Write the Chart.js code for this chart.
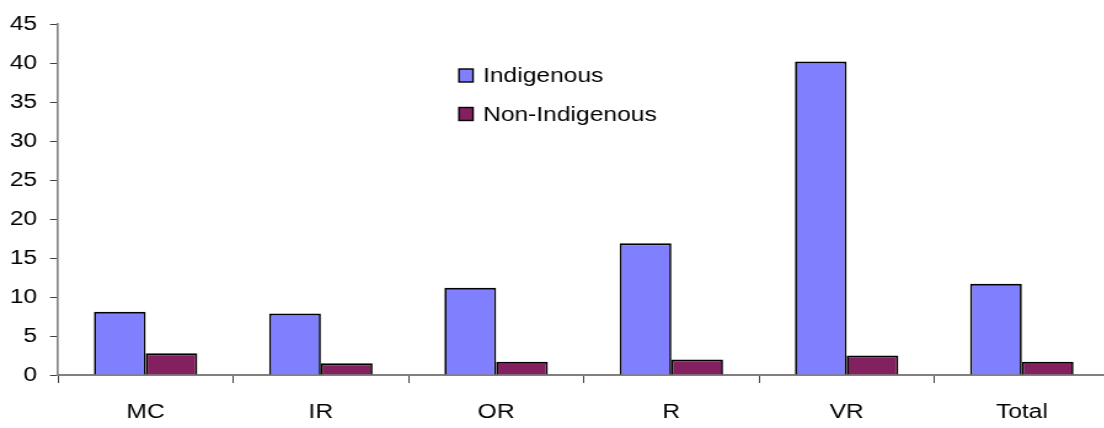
<!DOCTYPE html>
<html>
<head>
<meta charset="utf-8">
<script src="https://cdn.jsdelivr.net/npm/chart.js@4"></script>
<style>
  html, body { margin: 0; padding: 0; background: #ffffff; overflow: hidden; }
  /* the chart is laid out narrower and widened horizontally for its wide lettering */
  #wrap { position: relative; width: 902px; height: 428px; transform: scaleX(1.23); transform-origin: 0 0; }
</style>
</head>
<body>
<div id="wrap"><canvas id="c"></canvas></div>
<script>
// Rates by category
const categories = ['MC', 'IR', 'OR', 'R', 'VR', 'Total'];
const indigenous = [8.1, 7.9, 11.2, 16.9, 40.2, 11.7];
const nonIndigenous = [2.8, 1.5, 1.7, 2.0, 2.5, 1.7];
const yTicks = [0, 5, 10, 15, 20, 25, 30, 35, 40, 45];

const FONT = '"Liberation Sans", Arial, sans-serif';
const SX = 1.23;

// Legend drawn inside the plot, two stacked rows
const innerLegend = {
  id: 'innerLegend',
  afterDraw(chart) {
    const ctx = chart.ctx;
    ctx.save();
    ctx.font = '20px ' + FONT;
    ctx.textBaseline = 'middle';
    chart.data.datasets.forEach((ds, i) => {
      const y = 75.5 + i * 38.5;
      const bx = 459 / SX, bw = 14 / SX;
      ctx.fillStyle = ds.backgroundColor;
      ctx.fillRect(bx, y - 6.5, bw, 13);
      ctx.strokeStyle = '#000000';
      ctx.lineWidth = 1.4;
      ctx.strokeRect(bx, y - 6.5, bw, 13);
      ctx.fillStyle = '#000000';
      ctx.fillText(ds.label, 483 / SX, y + 1);
    });
    ctx.restore();
  }
};

const barBorder = { top: 2, left: 1.7, right: 1.7, bottom: 0 };

new Chart(document.getElementById('c'), {
  type: 'bar',
  data: {
    labels: categories,
    datasets: [
      {
        label: 'Indigenous',
        data: indigenous,
        backgroundColor: '#8080FF',
        borderColor: '#000000',
        borderWidth: barBorder,
        categoryPercentage: 0.59,
        barPercentage: 1
      },
      {
        label: 'Non-Indigenous',
        data: nonIndigenous,
        backgroundColor: '#822060',
        borderColor: '#000000',
        borderWidth: barBorder,
        categoryPercentage: 0.59,
        barPercentage: 1
      }
    ]
  },
  options: {
    responsive: true,
    maintainAspectRatio: false,
    animation: false,
    layout: { padding: { top: 24, left: 0, right: 0, bottom: 0 } },
    plugins: {
      legend: { display: false },
      tooltip: { enabled: false }
    },
    scales: {
      x: {
        offset: true,
        grid: {
          offset: true,
          drawOnChartArea: false,
          drawTicks: true,
          tickLength: 8,
          color: '#404040',
          lineWidth: 1
        },
        border: { display: true, color: '#808080', width: 2 },
        ticks: {
          color: '#000000',
          font: { family: FONT, size: 20 },
          padding: 17,
          maxRotation: 0
        },
        afterFit(scale) { scale.height = 53; }
      },
      y: {
        min: 0,
        max: 45,
        afterBuildTicks(scale) {
          scale.ticks = yTicks.map(v => ({ value: v }));
        },
        grid: {
          drawOnChartArea: false,
          drawTicks: true,
          tickLength: 6.5,
          color: '#404040',
          lineWidth: 1
        },
        border: { display: true, color: '#808080', width: 1.6 },
        ticks: {
          color: '#000000',
          font: { family: FONT, size: 20 },
          padding: 10.5
        },
        afterFit(scale) { scale.width = 58 / SX; }
      }
    }
  },
  plugins: [innerLegend]
});
</script>
</body>
</html>
